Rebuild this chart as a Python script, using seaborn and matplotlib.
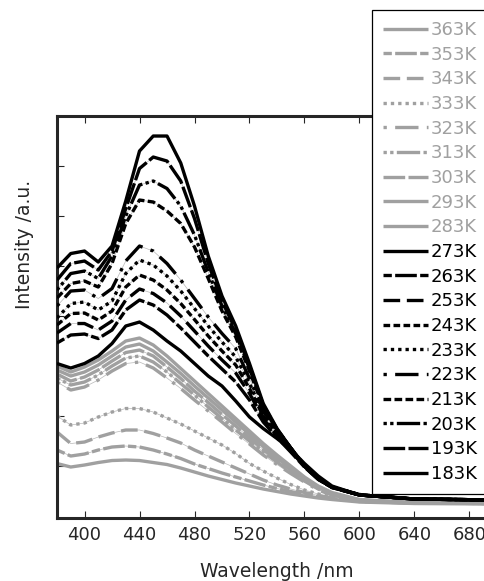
import numpy as np
import pandas as pd
import matplotlib
matplotlib.use("Agg")
import matplotlib.pyplot as plt
import seaborn as sns

# emission spectra (arbitrary units)
wavelength = [380, 390, 400, 410, 420, 430, 440, 450, 460, 470, 480, 490,
              500, 510, 520, 530, 540, 550, 560, 570, 580, 600, 640, 700]

temps = ['183K', '193K', '203K', '213K', '223K', '233K', '243K', '253K', '263K', '273K',
         '283K', '293K', '303K', '313K', '323K', '333K', '343K', '353K', '363K']

i183 = [4.96, 5.25, 5.30, 5.08, 5.40, 6.30, 7.30, 7.60, 7.60, 7.06, 6.20, 5.20, 4.40, 3.80, 3.05, 2.25, 1.75, 1.36, 1.00, 0.74, 0.58, 0.42, 0.34, 0.32]
i193 = [4.72, 5.05, 5.10, 4.92, 5.30, 6.15, 6.95, 7.18, 7.10, 6.70, 5.95, 5.05, 4.30, 3.72, 3.00, 2.22, 1.74, 1.36, 1.00, 0.74, 0.58, 0.42, 0.34, 0.32]
i203 = [4.52, 4.85, 4.90, 4.75, 5.20, 6.00, 6.62, 6.70, 6.55, 6.20, 5.62, 4.88, 4.20, 3.65, 2.95, 2.20, 1.73, 1.36, 1.00, 0.74, 0.58, 0.42, 0.34, 0.32]
i213 = [4.36, 4.65, 4.70, 4.58, 5.05, 5.85, 6.32, 6.28, 6.10, 5.85, 5.38, 4.75, 4.10, 3.58, 2.90, 2.18, 1.72, 1.36, 1.00, 0.74, 0.58, 0.42, 0.34, 0.32]
i223 = [4.20, 4.50, 4.52, 4.35, 4.55, 5.10, 5.40, 5.30, 5.05, 4.72, 4.35, 3.98, 3.65, 3.35, 2.75, 2.10, 1.70, 1.36, 1.02, 0.76, 0.58, 0.43, 0.34, 0.32]
i233 = [3.96, 4.25, 4.28, 4.12, 4.30, 4.85, 5.12, 5.02, 4.80, 4.50, 4.15, 3.80, 3.48, 3.18, 2.65, 2.05, 1.68, 1.34, 1.01, 0.75, 0.58, 0.43, 0.34, 0.32]
i243 = [3.82, 4.05, 4.06, 3.92, 4.10, 4.58, 4.82, 4.72, 4.52, 4.25, 3.93, 3.60, 3.30, 3.02, 2.55, 2.00, 1.64, 1.32, 1.00, 0.74, 0.57, 0.42, 0.34, 0.32]
i253 = [3.66, 3.85, 3.85, 3.72, 3.90, 4.32, 4.54, 4.45, 4.26, 4.00, 3.70, 3.40, 3.12, 2.86, 2.45, 1.95, 1.60, 1.30, 0.99, 0.74, 0.57, 0.42, 0.34, 0.32]
i263 = [3.46, 3.62, 3.64, 3.55, 3.72, 4.12, 4.32, 4.22, 4.02, 3.76, 3.48, 3.20, 2.94, 2.68, 2.32, 1.88, 1.57, 1.28, 0.98, 0.73, 0.57, 0.42, 0.34, 0.32]
i273 = [3.05, 2.96, 3.05, 3.20, 3.45, 3.80, 3.88, 3.72, 3.50, 3.30, 3.05, 2.80, 2.60, 2.30, 1.98, 1.75, 1.55, 1.33, 1.05, 0.80, 0.60, 0.42, 0.34, 0.32]
i283 = [3.00, 2.88, 2.98, 3.12, 3.30, 3.50, 3.56, 3.42, 3.20, 2.95, 2.70, 2.45, 2.20, 1.95, 1.70, 1.45, 1.22, 1.00, 0.78, 0.60, 0.47, 0.33, 0.27, 0.25]
i293 = [2.92, 2.80, 2.88, 3.02, 3.20, 3.38, 3.44, 3.30, 3.08, 2.85, 2.60, 2.36, 2.12, 1.88, 1.63, 1.39, 1.17, 0.95, 0.75, 0.58, 0.45, 0.32, 0.27, 0.25]
i303 = [2.84, 2.70, 2.78, 2.92, 3.10, 3.27, 3.32, 3.20, 2.98, 2.75, 2.50, 2.27, 2.03, 1.80, 1.56, 1.33, 1.12, 0.92, 0.72, 0.56, 0.44, 0.32, 0.26, 0.25]
i313 = [2.76, 2.62, 2.68, 2.82, 3.00, 3.16, 3.20, 3.08, 2.88, 2.65, 2.42, 2.18, 1.95, 1.72, 1.50, 1.28, 1.08, 0.88, 0.70, 0.54, 0.43, 0.31, 0.26, 0.25]
i323 = [2.68, 2.52, 2.58, 2.72, 2.90, 3.05, 3.08, 2.96, 2.76, 2.55, 2.32, 2.10, 1.88, 1.65, 1.44, 1.22, 1.03, 0.85, 0.68, 0.52, 0.42, 0.31, 0.26, 0.25]
i333 = [2.00, 1.82, 1.86, 1.98, 2.08, 2.15, 2.15, 2.08, 1.96, 1.84, 1.70, 1.56, 1.42, 1.25, 1.05, 0.90, 0.76, 0.63, 0.52, 0.44, 0.38, 0.30, 0.26, 0.25]
i343 = [1.68, 1.45, 1.48, 1.58, 1.66, 1.72, 1.72, 1.65, 1.56, 1.46, 1.32, 1.20, 1.08, 0.96, 0.84, 0.72, 0.62, 0.54, 0.47, 0.41, 0.36, 0.29, 0.26, 0.25]
i353 = [1.32, 1.20, 1.24, 1.32, 1.38, 1.40, 1.38, 1.32, 1.24, 1.15, 1.04, 0.95, 0.86, 0.78, 0.70, 0.62, 0.55, 0.49, 0.43, 0.39, 0.35, 0.29, 0.26, 0.25]
i363 = [1.05, 0.98, 1.02, 1.07, 1.11, 1.12, 1.11, 1.07, 1.03, 0.96, 0.88, 0.80, 0.73, 0.66, 0.60, 0.54, 0.49, 0.44, 0.40, 0.36, 0.33, 0.28, 0.25, 0.24]

spectra = [i183, i193, i203, i213, i223, i233, i243, i253, i263, i273,
           i283, i293, i303, i313, i323, i333, i343, i353, i363]

# dash patterns (in linewidth units)
solid = (0, ())
long_dash = (0, (6.5, 1))
dotdot_dash = (0, (1, 1, 1, 1, 7, 1))
short_dash2 = (0, (2.3, 1))
dot_dash = (0, (1, 2.5, 7, 2.5))
dotted = (0, (1, 1.2))
short_dash = (0, (2, 1))
dash = (0, (5, 2))
short_long = (0, (2.5, 1, 6.5, 1))

styles = [solid, long_dash, dotdot_dash, short_dash2, dot_dash, dotted, short_dash, dash, short_long, solid,
          solid, solid, long_dash, dotdot_dash, dot_dash, dotted, dash, short_long, solid]

BLACK = '#000000'
GREY = '#a0a0a0'
colors = [BLACK] * 10 + [GREY] * 9

sns.set_style('ticks')
plt.rcParams['font.family'] = ['DejaVu Sans']

fig = plt.figure(figsize=(4.84, 5.81), dpi=100)
ax = fig.add_axes([0.1178, 0.1084, 0.909, 0.6919])

for t, vals, ls, c in zip(temps, spectra, styles, colors):
    df = pd.DataFrame({'Wavelength': wavelength, 'Intensity': vals})
    # thin guide line underneath, like the original rendering
    ax.plot(df['Wavelength'], df['Intensity'], color='#b8b8b8', lw=0.5, zorder=1)
    sns.lineplot(data=df, x='Wavelength', y='Intensity', ax=ax, color=c,
                 lw=2.4, linestyle=ls, label=t, zorder=2 if c == GREY else 3)

ax.set_xlim(380, 700)
ax.set_ylim(-0.04, 8.0)
ax.set_xticks(np.arange(400, 700, 40))
ax.set_yticks(np.arange(1, 8))
ax.set_yticklabels([])
ax.tick_params(direction='in', length=5, width=0.8, top=True, right=True,
               labelsize=13, pad=6)
for s in ax.spines.values():
    s.set_linewidth(2.2)

ax.set_xlabel('Wavelength /nm', fontsize=13.5, labelpad=13)
ax.set_ylabel('Intensity /a.u.', fontsize=13.5)
ax.yaxis.set_label_coords(-0.052, 0.68)

h, l = ax.get_legend_handles_labels()
leg = ax.legend(h[::-1], l[::-1], loc='upper left',
                bbox_to_anchor=(372 / 484, 1 - 10 / 581), bbox_transform=fig.transFigure,
                fontsize=13, frameon=True, fancybox=False, edgecolor='black',
                framealpha=1, handlelength=2.5, handletextpad=0.15,
                labelspacing=0.37, borderpad=0.6, borderaxespad=0)
leg.get_frame().set_linewidth(0.9)
for txt, c in zip(leg.get_texts(), colors[::-1]):
    txt.set_color(c)

fig.savefig('out.png', dpi=100)
